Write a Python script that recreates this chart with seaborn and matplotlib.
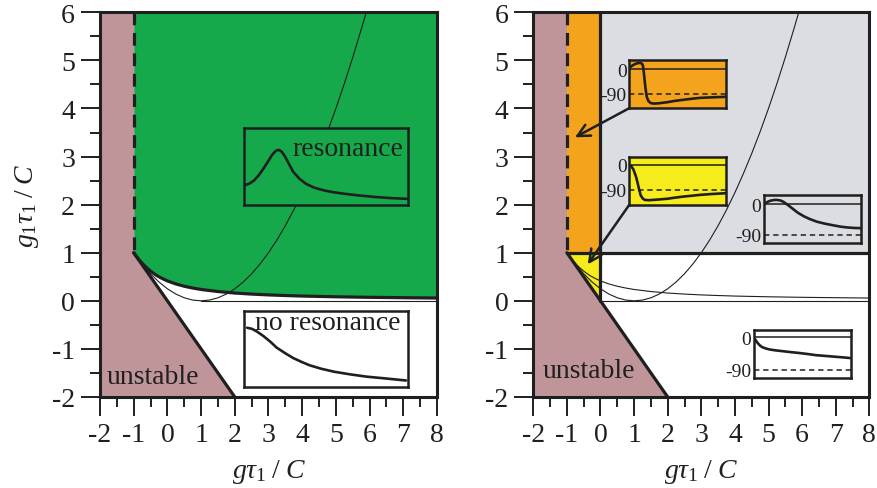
import matplotlib
matplotlib.use("Agg")
import matplotlib.pyplot as plt
import seaborn as sns

# ---- parameter-plane boundaries (a = g*tau1/C, b = g1*tau1/C) ----
# stability boundary: a = -1 for b > 1, a + b = 0 below
stab_x = [-1, -1, 2]
stab_y = [6, 1, -2]

# resonance boundary
res_x = [-1.0, -0.9, -0.8, -0.7, -0.6, -0.5, -0.4, -0.3, -0.2, -0.1, 0.0, 0.25, 0.5, 0.75,
         1.0, 1.5, 2.0, 2.5, 3.0, 3.5, 4.0, 5.0, 6.0, 7.0, 8.0]
res_y = [1.00, 0.905, 0.82, 0.745, 0.677, 0.618, 0.566, 0.520, 0.481, 0.446, 0.414, 0.351, 0.303, 0.266,
         0.236, 0.193, 0.162, 0.140, 0.123, 0.110, 0.099, 0.084, 0.073, 0.065, 0.058]

# complex-eigenvalue boundary
par_x = [-1.0, -0.75, -0.5, -0.25, 0.0, 0.25, 0.5, 0.75, 1.0, 1.25, 1.5, 1.75, 2.0, 2.25,
         2.5, 2.75, 3.0, 3.25, 3.5, 3.75, 4.0, 4.25, 4.5, 4.75, 5.0, 5.25, 5.5, 5.75, 5.9]
par_y = [1.0, 0.766, 0.563, 0.391, 0.25, 0.141, 0.063, 0.016, 0.0, 0.016, 0.063, 0.141, 0.25, 0.391,
         0.563, 0.766, 1.0, 1.266, 1.563, 1.891, 2.25, 2.641, 3.063, 3.516, 4.0, 4.516, 5.063, 5.641, 6.0]

# region outlines for the right panel
orange_x, orange_lo, orange_hi = [-1, 0], [1, 1], [6, 6]
gray_x, gray_lo, gray_hi = [0, 8], [1, 1], [6, 6]
yellow_x, yellow_lo, yellow_hi = [-1, 0], [1, 0], [1, 1]

x_ticks = [-2, -1, 0, 1, 2, 3, 4, 5, 6, 7, 8]
x_labels = ["-2", "-1", "0", "1", "2", "3", "4", "5", "6", "7", "8"]
y_ticks = [-2, -1, 0, 1, 2, 3, 4, 5, 6]
y_labels = ["-2", "-1", "0", "1", "2", "3", "4", "5", "6"]

# ---- inset curves (normalised frequency axis 0..1) ----
amp_res_x = [0, .03, .06, .09, .12, .15, .17, .19, .205, .215, .23, .25, .27, .30, .34, .38, .43, .49,
             .55, .62, .70, .80, .90, 1.0]
amp_res_y = [.25, .27, .31, .38, .47, .57, .64, .69, .71, .71, .69, .63, .55, .43, .335, .27, .22, .185,
             .16, .14, .12, .10, .085, .075]

amp_nores_x = [.02, .05, .08, .12, .16, .20, .25, .30, .35, .40, .47, .55, .65, .75, .85, .99]
amp_nores_y = [.78, .765, .73, .67, .60, .52, .45, .385, .335, .29, .245, .205, .17, .14, .12, .09]

ph_orange_x = [0, .03, .06, .09, .11, .13, .14, .15, .16, .17, .18, .197, .22, .25, .30, .39, .47, .56, .65, .73, .85, 1.0]
ph_orange_y = [5, 13, 19, 22, 23, 20, 12, -15, -50, -80, -103, -118, -125, -127, -126, -122, -117, -113, -109, -106, -104, -102]

ph_yellow_x = [0, .02, .04, .055, .07, .085, .10, .117, .14, .16, .20, .25, .32, .39, .47, .56, .65, .73, .85, 1.0]
ph_yellow_y = [0, -6, -16, -30, -45, -65, -88, -110, -122, -126, -127, -126, -124, -122, -118, -114, -111, -108, -105, -102]

ph_gray_x = [0, .03, .06, .10, .13, .17, .20, .25, .30, .35, .41, .47, .545, .63, .72, .80, .86, .93, 1.0]
ph_gray_y = [0, 6, 10, 12.5, 12.7, 11, 7, -3, -14, -25, -35, -43, -51, -57, -62, -66, -68, -69.5, -70]

ph_white_x = [0, .01, .02, .034, .05, .07, .09, .12, .16, .22, .30, .38, .47, .56, .64, .73, .82, .91, .99]
ph_white_y = [0, -4, -8, -14, -19, -24.5, -28, -31, -34, -36.5, -39, -41.5, -44, -47, -50, -52, -54, -56, -58]

GREEN = "#16a94b"
MAUVE = "#bf959a"
ORANGE = "#f4a41c"
YELLOW = "#f6ec1b"
GRAY = "#dcdde2"

sns.set_theme(style="ticks")
plt.rcParams["font.family"] = ["Liberation Serif", "DejaVu Serif"]
plt.rcParams["mathtext.fontset"] = "custom"
plt.rcParams["mathtext.rm"] = "Liberation Serif"
plt.rcParams["mathtext.it"] = "Liberation Serif:italic"
plt.rcParams["mathtext.bf"] = "Liberation Serif:bold"
plt.rcParams["mathtext.fallback"] = "stix"
plt.rcParams["axes.unicode_minus"] = False

fig = plt.figure(figsize=(8.78, 4.89), dpi=100)
axL = fig.add_axes([0.1139, 0.1861, 0.3838, 0.7867])
axR = fig.add_axes([0.6074, 0.1861, 0.3827, 0.7867])

THICK = 2.3
THIN = 0.8
INK = "#1f1f1f"

XLABEL = r"$g\tau_{\mathit{1}}\;/\;C$"
YLABEL = r"$g_{\mathit{1}}\tau_{\mathit{1}}\;/\;C$"


def frame(ax):
    ax.set_xlim(-2, 8)
    ax.set_ylim(-2, 6)
    ax.set_xticks(x_ticks)
    ax.set_xticklabels(x_labels)
    ax.set_yticks(y_ticks)
    ax.set_yticklabels(y_labels)
    ax.set_xticks([t + 0.5 for t in x_ticks[:-1]], minor=True)
    ax.set_yticks([t + 0.5 for t in y_ticks[:-1]], minor=True)
    ax.tick_params(which="major", direction="out", length=14, width=1.4,
                   labelsize=20, pad=4, color=INK, labelcolor=INK)
    ax.tick_params(which="minor", direction="out", length=7, width=1.4, color=INK)
    for s in ax.spines.values():
        s.set_linewidth(2.2)
        s.set_color(INK)
        s.set_zorder(10)
    ax.set_xlabel(XLABEL, fontsize=20, color=INK)
    ax.xaxis.set_label_coords(0.5, -0.155)


def line(ax, x, y, lw, **kw):
    sns.lineplot(x=x, y=y, sort=False, estimator=None, color=INK,
                 linewidth=lw, ax=ax, zorder=4, **kw)


def inset(ax, bounds, face, x, y, ylim=None, phase=False, text=None, text_xy=None):
    ins = ax.inset_axes(bounds, transform=ax.transData, zorder=6)
    ins.set_facecolor(face)
    ins.set_xlim(0, 1)
    for s in ins.spines.values():
        s.set_linewidth(1.8)
        s.set_color(INK)
    ins.set_xticks([])
    if phase:
        ins.set_ylim(*ylim)
        ins.axhline(0, color=INK, lw=1.1)
        ins.axhline(-90, color=INK, lw=1.1, ls=(0, (3.5, 2.5)))
        ins.set_yticks([0, -90])
        ins.set_yticklabels(["0", "-90"])
        ins.tick_params(axis="y", length=0, pad=2, labelsize=14, labelcolor=INK)
    else:
        ins.set_ylim(0, 1)
        ins.set_yticks([])
    sns.lineplot(x=x, y=y, sort=False, estimator=None, color=INK,
                 linewidth=1.9, ax=ins)
    if text is not None:
        ins.text(*text_xy, text, transform=ins.transAxes, fontsize=20,
                 ha=("right" if text == "resonance" else "center"), va="center",
                 color=INK)
    return ins


# ---------------- left panel ----------------
frame(axL)
axL.fill_betweenx(stab_y, -2, stab_x, color=MAUVE, lw=0, zorder=1)
axL.fill_between(res_x, res_y, 6, color=GREEN, lw=0, zorder=1)
line(axL, par_x, par_y, THIN)
line(axL, [1, 8], [0, 0], THIN)
line(axL, res_x, res_y, THICK)
line(axL, stab_x[1:], stab_y[1:], THICK)
axL.plot(stab_x[:2], stab_y[:2], color=INK, lw=THICK, dashes=(4, 2.4), zorder=4)
axL.text(-1.8, -1.57, "unstable", fontsize=20, ha="left", va="center", color=INK, zorder=5)
axL.set_ylabel(YLABEL, fontsize=20, color=INK)
axL.yaxis.set_label_coords(-0.175, 0.5)

inset(axL, [2.27, 2.0, 4.86, 1.6], GREEN, amp_res_x, amp_res_y,
      text="resonance", text_xy=(0.975, 0.73))
inset(axL, [2.27, -1.8, 4.86, 1.59], "white", amp_nores_x, amp_nores_y,
      text="no resonance", text_xy=(0.515, 0.85))

# ---------------- right panel ----------------
frame(axR)
axR.fill_betweenx(stab_y, -2, stab_x, color=MAUVE, lw=0, zorder=1)
axR.fill_between(orange_x, orange_lo, orange_hi, color=ORANGE, lw=0, zorder=1)
axR.fill_between(gray_x, gray_lo, gray_hi, color=GRAY, lw=0, zorder=1)
axR.fill_between(yellow_x, yellow_lo, yellow_hi, color=YELLOW, lw=0, zorder=1)
line(axR, par_x, par_y, THIN)
line(axR, res_x, res_y, THIN)
line(axR, [0, 8], [0, 0], THIN)
line(axR, [-1, 8], [1, 1], THICK)
line(axR, [0, 0], [0, 6], THICK)
line(axR, stab_x[1:], stab_y[1:], THICK)
axR.plot(stab_x[:2], stab_y[:2], color=INK, lw=THICK, dashes=(4, 2.4), zorder=4)
axR.text(-1.72, -1.45, "unstable", fontsize=20, ha="left", va="center", color=INK, zorder=5)

inset(axR, [0.86, 4.0, 2.88, 1.0], ORANGE, ph_orange_x, ph_orange_y, ylim=(-145, 32), phase=True)
inset(axR, [0.86, 2.0, 2.88, 1.0], YELLOW, ph_yellow_x, ph_yellow_y, ylim=(-143, 29), phase=True)
inset(axR, [4.87, 1.2, 2.87, 1.0], GRAY, ph_gray_x, ph_gray_y, ylim=(-114, 27), phase=True)
inset(axR, [4.56, -1.6, 2.89, 1.0], "white", ph_white_x, ph_white_y, ylim=(-113, 21), phase=True)

arrow = dict(arrowstyle="->", lw=1.8, color=INK, mutation_scale=22,
             shrinkA=0, shrinkB=0)
axR.annotate("", xy=(-0.76, 3.4), xytext=(0.84, 4.0), arrowprops=arrow, zorder=7)
axR.annotate("", xy=(-0.38, 0.76), xytext=(0.86, 2.0), arrowprops=arrow, zorder=7)

fig.savefig("out.png", dpi=100)
